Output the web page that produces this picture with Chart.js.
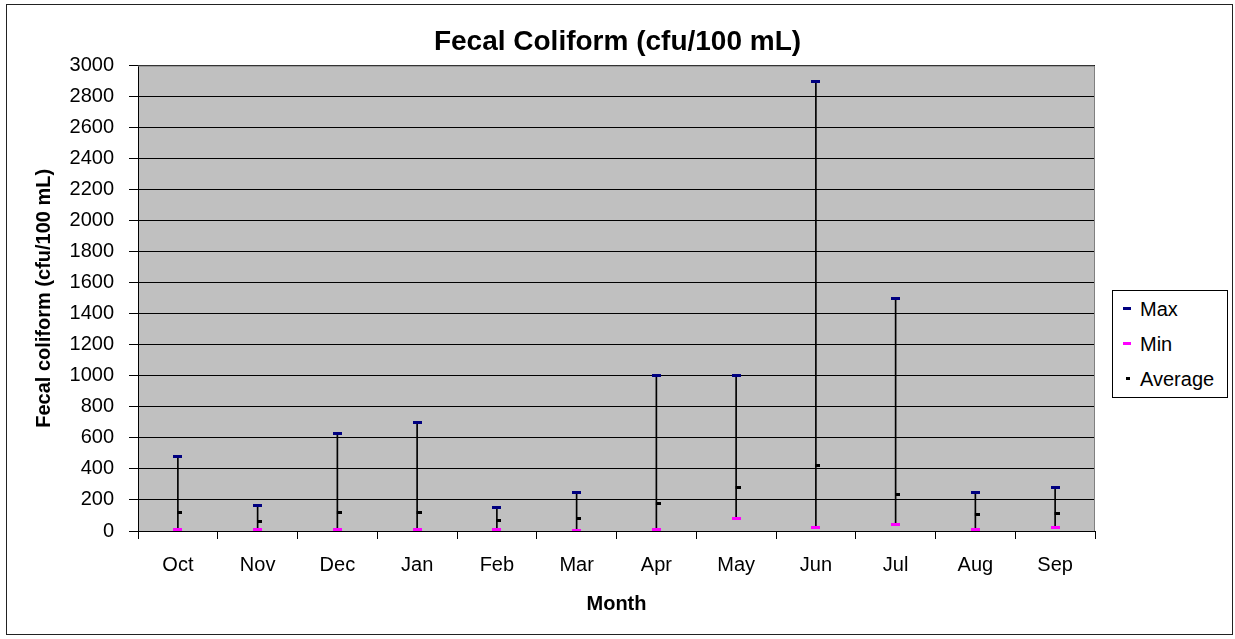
<!DOCTYPE html>
<html>
<head>
<meta charset="utf-8">
<script src="https://cdn.jsdelivr.net/npm/chart.js@4"></script>
<style>
  html, body { margin: 0; padding: 0; background: #fff; }
  #wrap { position: relative; width: 1235px; height: 639px; }
  #frame {
    position: absolute; left: 6px; top: 4px; width: 1227px; height: 631px;
    border: 1px solid #222; box-sizing: border-box; pointer-events: none;
  }
  #legend {
    position: absolute; left: 1112px; top: 290px; width: 116px; height: 108px;
    border: 1px solid #000; box-sizing: border-box; background: #fff;
    font: 20px "Liberation Sans", Arial, sans-serif; color: #000;
  }
  #legend .item { position: absolute; left: 0; height: 24px; line-height: 24px; white-space: nowrap; }
  #legend .mark { position: absolute; top: 10px; height: 3px; }
  #legend .txt { position: absolute; left: 27px; top: 0; }
  canvas { position: absolute; left: 0; top: 0; }
</style>
</head>
<body>
<div id="wrap">
  <canvas id="c" width="1235" height="639"></canvas>
  <div id="frame"></div>
  <div id="legend"></div>
</div>
<script>
// data
const months = ['Oct', 'Nov', 'Dec', 'Jan', 'Feb', 'Mar', 'Apr', 'May', 'Jun', 'Jul', 'Aug', 'Sep'];
const maxVals = [480, 165, 630, 700, 150, 245, 1000, 1000, 2900, 1500, 245, 280];
const minVals = [10, 10, 10, 10, 10, 2, 10, 80, 25, 45, 10, 25];
const avgVals = [120, 60, 120, 120, 70, 80, 175, 280, 420, 235, 105, 115];
const yTicks = [0, 200, 400, 600, 800, 1000, 1200, 1400, 1600, 1800, 2000, 2200, 2400, 2600, 2800, 3000];

const FONT = '"Liberation Sans", Arial, sans-serif';

// small dash markers like the Excel high-low chart
function dash(color, x0, w) {
    const c = document.createElement('canvas');
    c.width = 9; c.height = 3;
    const g = c.getContext('2d');
    g.fillStyle = color;
    g.fillRect(x0, 0, w, 3);
    return c;
}

const plotBg = {
    id: 'plotBg',
    beforeDraw(chart) {
        const { ctx, chartArea: a } = chart;
        ctx.save();
        ctx.fillStyle = '#c0c0c0';
        ctx.fillRect(a.left, a.top, a.right - a.left, a.bottom - a.top);
        ctx.restore();
    },
    beforeDatasetsDraw(chart) {
        const { ctx, chartArea: a } = chart;
        ctx.save();
        ctx.strokeStyle = '#808080';
        ctx.lineWidth = 1;
        ctx.beginPath();
        ctx.moveTo(a.left, a.top + 0.5);
        ctx.lineTo(a.right - 0.5, a.top + 0.5);
        ctx.lineTo(a.right - 0.5, a.bottom);
        ctx.stroke();
        ctx.restore();
    }
};

const chart = new Chart(document.getElementById('c').getContext('2d'), {
    type: 'bar',
    data: {
        labels: months,
        datasets: [
            {
                type: 'line', label: 'Max', data: maxVals, showLine: false,
                pointStyle: dash('#000080', 0, 9), pointRadius: 5, color: '#000080', order: 1
            },
            {
                type: 'line', label: 'Min', data: minVals, showLine: false,
                pointStyle: dash('#ff00ff', 0, 9), pointRadius: 5, color: '#ff00ff', order: 1
            },
            {
                type: 'line', label: 'Average', data: avgVals, showLine: false,
                pointStyle: dash('#000000', 4, 5), pointRadius: 5, color: '#000000', order: 1
            },
            {
                type: 'bar', label: 'range', data: minVals.map((v, i) => [v, maxVals[i]]),
                backgroundColor: '#000', borderWidth: 0, barThickness: 1, order: 5
            }
        ]
    },
    options: {
        responsive: false,
        devicePixelRatio: 1,
        animation: false,
        layout: { padding: { left: 0, right: 0, top: 8, bottom: 10 } },
        plugins: {
            legend: { display: false },
            tooltip: { enabled: false },
            title: {
                display: true,
                text: 'Fecal Coliform (cfu/100 mL)',
                color: '#000',
                font: { family: FONT, size: 28, weight: 'bold' },
                padding: { top: 17, bottom: 7 }
            }
        },
        scales: {
            x: {
                offset: true,
                grid: { offset: true, drawOnChartArea: false, drawTicks: true, tickLength: 8, color: '#000' },
                border: { color: '#000' },
                ticks: { color: '#000', font: { family: FONT, size: 20 }, padding: 14, maxRotation: 0 },
                title: {
                    display: true, text: 'Month', color: '#000',
                    font: { family: FONT, size: 20, weight: 'bold' },
                    padding: { top: 0, bottom: 13 }
                },
                afterFit(s) { s.height = 98; }
            },
            y: {
                min: 0, max: 3000,
                afterBuildTicks(s) { s.ticks = yTicks.map(v => ({ value: v })); },
                grid: { color: '#000', tickLength: 9 },
                border: { color: '#000' },
                ticks: { color: '#000', font: { family: FONT, size: 20 }, padding: 15, callback: v => String(v) },
                title: {
                    display: true, text: 'Fecal coliform (cfu/100 mL)', color: '#000',
                    font: { family: FONT, size: 20, weight: 'bold' },
                    padding: { top: 32, bottom: 0 }
                },
                afterFit(s) { s.width = 138; }
            },
            // empty right-hand strip that holds the legend box
            side: {
                type: 'linear', position: 'right', display: true,
                grid: { display: false }, border: { display: false }, ticks: { display: false },
                afterFit(s) { s.width = 140; }
            }
        }
    },
    plugins: [plotBg]
});

// legend box built from the point datasets
const legendEl = document.getElementById('legend');
const markW = { Max: [10, 8], Min: [10, 8], Average: [13, 4] };
chart.data.datasets.filter(d => d.type === 'line').forEach((d, i) => {
    const item = document.createElement('div');
    item.className = 'item';
    item.style.top = (6 + i * 35) + 'px';
    const m = document.createElement('span');
    m.className = 'mark';
    m.style.left = markW[d.label][0] + 'px';
    m.style.width = markW[d.label][1] + 'px';
    m.style.background = d.color;
    const t = document.createElement('span');
    t.className = 'txt';
    t.textContent = d.label;
    item.appendChild(m);
    item.appendChild(t);
    legendEl.appendChild(item);
});
</script>
</body>
</html>
